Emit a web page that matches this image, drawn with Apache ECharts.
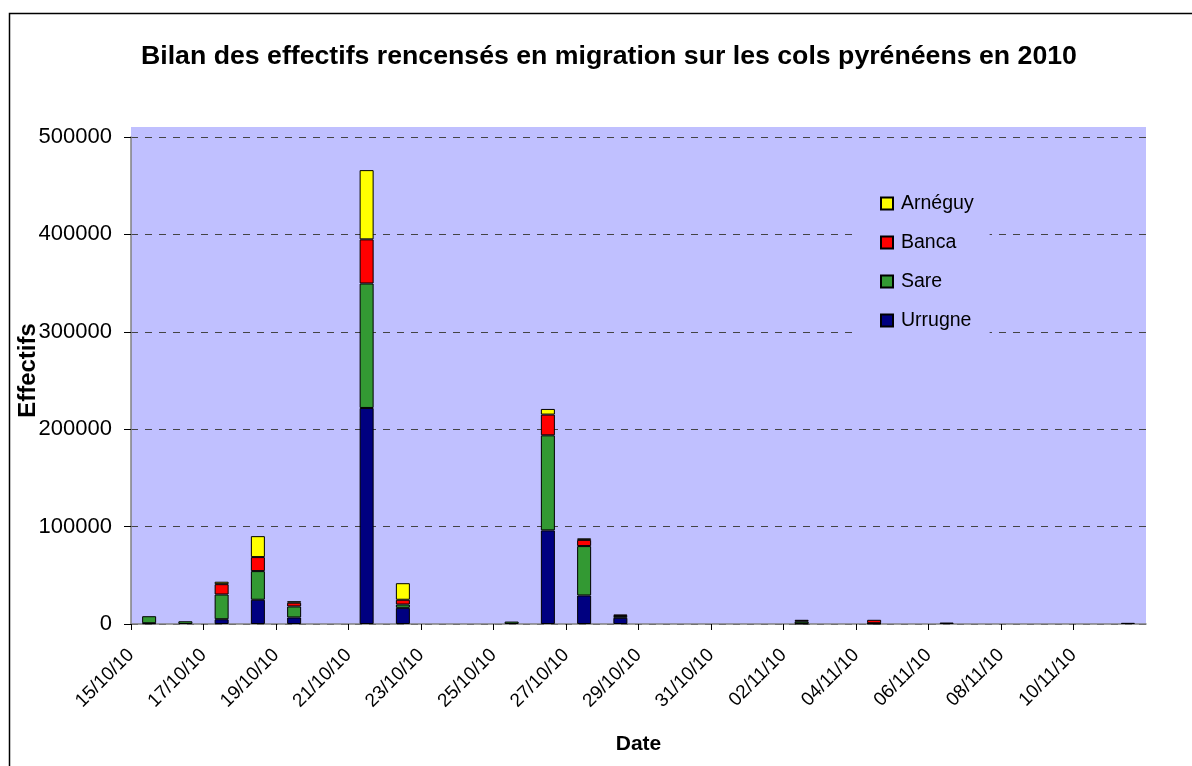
<!DOCTYPE html>
<html>
<head>
<meta charset="utf-8">
<script src="https://cdn.jsdelivr.net/npm/echarts@6/dist/echarts.min.js"></script>
<style>
html,body{margin:0;padding:0;background:#fff;}
#chart{width:1192px;height:766px;}
</style>
</head>
<body>
<div id="chart"></div>
<script>
// One category per day (dd/mm/yy)
var dates = ['15/10/10','16/10/10','17/10/10','18/10/10','19/10/10','20/10/10','21/10/10','22/10/10','23/10/10','24/10/10',
             '25/10/10','26/10/10','27/10/10','28/10/10','29/10/10','30/10/10','31/10/10','01/11/10','02/11/10','03/11/10',
             '04/11/10','05/11/10','06/11/10','07/11/10','08/11/10','09/11/10','10/11/10','11/11/10'];
var urrugne = [800, null, 4900, 24900, 6700, null, 221800, 16600, null, null, null, 96100, 29300, 6400, null, null, null, null, 500, null, 500, null, 1500, null, null, null, null, 1200];
var sare    = [7200, 2800, 25400, 29400, 11300, null, 127800, 3400, null, null, 2500, 97600, 50700, 1900, null, null, null, null, 2300, null, 300, null, null, null, null, null, null, null];
var banca   = [null, null, 10600, 14400, 3900, null, 45300, 4900, null, null, null, 21300, 6400, 1500, null, null, null, null, 1500, null, 3500, null, null, null, null, null, null, null];
var arneguy = [null, null, 2500, 21500, 1500, null, 71100, 17000, null, null, null, 5800, 1500, null, null, null, null, null, null, null, null, null, null, null, null, null, null, null];
// x-axis tick labels, every 2 days from 15/10/10 (placed on day boundaries)
var tickLabels = ['15/10/10','17/10/10','19/10/10','21/10/10','23/10/10','25/10/10','27/10/10','29/10/10','31/10/10','02/11/10','04/11/10','06/11/10','08/11/10','10/11/10'];
var yTicks = [0, 100000, 200000, 300000, 400000, 500000];

var FONT = "'Liberation Sans', Arial, sans-serif";
var chart = echarts.init(document.getElementById('chart'), null, {renderer: 'canvas'});

function barSeries(name, vals, color) {
  return {
    name: name, type: 'bar', stack: 'total', barWidth: 14,
    xAxisIndex: 0,
    data: vals,
    itemStyle: {color: color, borderColor: '#000', borderWidth: 1},
    emphasis: {disabled: true}
  };
}

chart.setOption({
  animation: false,
  textStyle: {fontFamily: FONT},
  title: {
    text: 'Bilan des effectifs rencensés en migration sur les cols pyrénéens en 2010',
    left: 136, top: 38,
    textStyle: {fontFamily: FONT, fontSize: 26.7, fontWeight: 'bold', color: '#000'}
  },
  graphic: [
    {type: 'rect', z: -100, silent: true, shape: {x: 9.5, y: 13.5, width: 1300, height: 1000}, style: {fill: '#fff', stroke: '#000', lineWidth: 1.5}},
    {type: 'rect', z: -50, silent: true, shape: {x: 131, y: 127, width: 1015, height: 497}, style: {fill: '#C0C0FF'}}
  ],
  legend: {
    orient: 'vertical', left: 857, top: 185,
    data: ['Arnéguy', 'Banca', 'Sare', 'Urrugne'],
    icon: 'rect',
    itemWidth: 12, itemHeight: 12, itemGap: 18,
    backgroundColor: '#C0C0FF',
    padding: [8, 16, 8, 23],
    selectedMode: false,
    textStyle: {fontFamily: FONT, fontSize: 19.5, color: '#000', lineHeight: 21, padding: [0, 0, 0, 3]}
  },
  grid: {left: 131, right: 46, top: 137, bottom: 142, containLabel: false, outerBoundsMode: 'none'},
  xAxis: [
    {
      type: 'category', data: dates, boundaryGap: true,
      axisLine: {show: false}, axisTick: {show: false}, axisLabel: {show: false}, splitLine: {show: false}
    },
    {
      type: 'value', min: 0, max: dates.length, interval: 2, position: 'bottom',
      name: 'Date', nameLocation: 'middle', nameGap: 110, nameMoveOverlap: false,
      nameTextStyle: {fontFamily: FONT, fontSize: 21, fontWeight: 'bold', color: '#000'},
      axisLine: {show: true, onZero: false, lineStyle: {color: '#808080', width: 1.5}},
      axisTick: {show: true, length: 6, lineStyle: {color: '#000'}},
      splitLine: {show: false},
      axisLabel: {
        rotate: 45, margin: 28, fontFamily: FONT, fontSize: 19, color: '#000',
        showMaxLabel: false,
        formatter: function (v) { var l = tickLabels[Math.round(v / 2)]; return l || ''; }
      }
    }
  ],
  yAxis: {
    type: 'value', min: yTicks[0], max: yTicks[yTicks.length - 1], interval: 100000,
    name: 'Effectifs', nameLocation: 'middle', nameGap: 91, nameRotate: 90, nameMoveOverlap: false,
    nameTextStyle: {fontFamily: FONT, fontSize: 24, fontWeight: 'bold', color: '#000', padding: [0, 0, 0, 20]},
    axisLine: {show: true, lineStyle: {color: '#808080', width: 1.5}},
    axisTick: {show: true, length: 7, lineStyle: {color: '#000'}},
    splitLine: {show: true, lineStyle: {color: '#444', type: [7, 7], width: 1}},
    axisLabel: {margin: 19, fontFamily: FONT, fontSize: 22, color: '#000', formatter: function (v) { return String(v); }}
  },
  series: [
    barSeries('Urrugne', urrugne, '#000080'),
    barSeries('Sare', sare, '#339933'),
    barSeries('Banca', banca, '#FF0000'),
    barSeries('Arnéguy', arneguy, '#FFFF00')
  ]
});
</script>
</body>
</html>
